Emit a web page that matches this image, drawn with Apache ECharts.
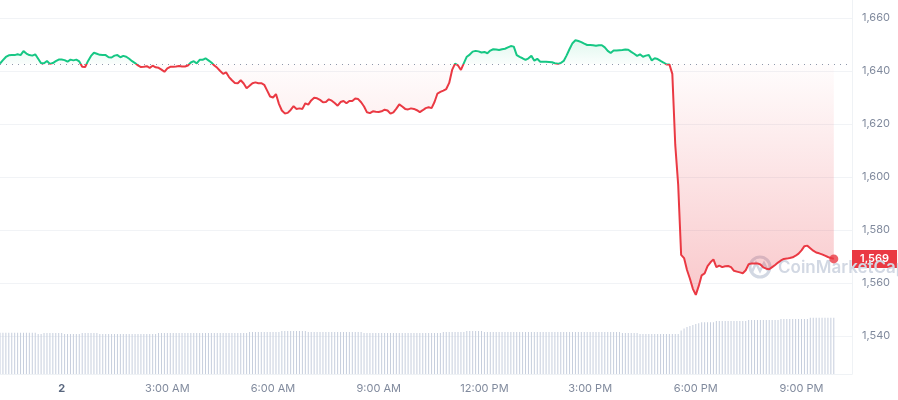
<!DOCTYPE html>
<html><head><meta charset="utf-8">
<script src="https://cdn.jsdelivr.net/npm/echarts@6/dist/echarts.min.js"></script>
<style>html,body{margin:0;padding:0;background:#fff}#c{width:898px;height:400px}</style>
</head><body><div id="c"></div>
<script>
// time axis: minutes from midnight of day "2"; first sample 22:15 the day before, 5-minute steps
const startMinute = -105;
const stepMinutes = 5;

const prices = [
1642.8,1644.1,1645.3,1645.9,1646.0,1646.0,1646.3,1646.0,1647.5,1646.6,
1646.0,1645.8,1646.3,1644.6,1642.9,1642.9,1643.8,1642.7,1643.0,1643.7,
1644.3,1644.3,1644.1,1643.5,1644.3,1644.0,1644.3,1643.6,1641.6,1641.5,
1643.8,1645.7,1646.9,1646.5,1646.1,1646.0,1646.0,1645.2,1645.1,1645.8,
1646.0,1645.2,1645.7,1645.4,1644.6,1643.7,1643.0,1642.1,1641.5,1641.6,
1641.8,1641.2,1642.0,1641.4,1641.2,1640.5,1639.7,1641.0,1641.6,1641.6,
1641.7,1641.9,1641.7,1641.7,1642.1,1643.2,1643.7,1642.9,1644.2,1644.2,
1644.8,1644.0,1643.2,1642.1,1641.2,1640.0,1638.9,1639.5,1637.7,1636.5,
1635.5,1635.4,1636.5,1635.3,1633.5,1634.4,1635.4,1635.7,1635.4,1635.4,
1634.8,1632.6,1630.4,1630.0,1631.3,1627.6,1625.1,1624.0,1624.2,1625.3,
1626.7,1625.7,1625.9,1625.7,1627.8,1627.3,1628.9,1629.9,1629.7,1629.1,
1628.2,1628.3,1629.3,1628.8,1627.9,1626.9,1628.3,1628.7,1627.8,1628.7,
1628.7,1629.6,1629.4,1628.2,1626.6,1624.4,1624.1,1624.8,1624.6,1624.5,
1624.8,1625.4,1625.1,1623.9,1624.4,1625.8,1627.4,1626.6,1625.7,1625.5,
1625.9,1625.7,1625.2,1624.5,1625.2,1626.0,1626.3,1626.0,1628.3,1631.5,
1632.1,1632.6,1633.2,1635.5,1640.4,1642.8,1642.1,1640.4,1643.0,1645.4,
1646.2,1647.3,1647.6,1647.4,1647.0,1647.2,1646.7,1647.7,1648.2,1648.1,
1647.9,1648.2,1648.4,1648.9,1649.4,1649.2,1646.0,1645.3,1644.8,1644.2,
1644.8,1645.7,1643.9,1644.6,1643.5,1643.5,1643.5,1643.4,1643.3,1642.9,
1642.7,1643.0,1643.8,1645.9,1648.3,1650.5,1651.6,1651.3,1650.9,1650.3,
1649.8,1649.8,1649.7,1649.5,1649.7,1649.7,1648.9,1647.6,1646.8,1647.7,
1647.7,1647.8,1647.9,1648.1,1648.0,1647.2,1646.5,1645.7,1646.3,1645.4,
1645.8,1646.0,1644.0,1644.8,1644.5,1643.8,1643.2,1642.5,1642.5,1638.9,
1612.1,1597.0,1570.6,1569.4,1564.9,1561.6,1557.8,1555.5,1558.9,1562.9,
1563.6,1566.4,1567.8,1568.9,1566.0,1566.6,1566.0,1566.3,1566.4,1566.0,
1564.6,1564.3,1564.0,1563.7,1564.8,1567.1,1567.4,1567.4,1567.4,1567.0,
1565.9,1565.4,1565.2,1566.0,1566.8,1567.7,1568.5,1569.1,1569.2,1569.4,
1569.7,1570.3,1571.1,1572.3,1573.9,1574.1,1573.1,1572.2,1571.5,1571.2,
1570.8,1570.3,1569.8,1569.4,1569.1
];

// rolling volume (billions)
const volumes = [
4.42,4.42,4.42,4.42,4.42,4.42,4.42,4.42,4.42,4.42,4.42,4.42,4.42,
4.28,4.28,
4.39,4.39,4.39,4.39,4.39,4.39,4.39,
4.28,4.28,4.28,4.28,4.28,4.28,
4.39,4.39,4.39,4.39,4.39,4.39,
4.28,4.28,4.28,4.28,4.28,4.28,4.28,4.28,4.28,4.28,4.28,4.28,4.28,4.28,4.28,4.28,4.28,4.28,4.28,4.28,
4.39,4.39,4.39,4.39,4.39,4.39,4.39,4.39,4.39,4.39,4.39,4.39,4.39,4.39,4.39,4.39,4.39,4.39,4.39,4.39,4.39,4.39,4.39,4.39,4.39,4.39,4.39,4.39,4.39,4.39,4.39,
4.49,4.49,4.49,4.49,4.49,4.49,4.49,4.49,4.49,4.49,4.49,
4.60,4.60,4.60,4.60,4.60,4.60,4.60,4.60,4.60,
4.49,4.49,4.49,4.49,4.49,4.49,4.49,4.49,4.49,4.49,4.49,4.49,4.49,4.49,4.49,4.49,4.49,4.49,4.49,
4.39,4.39,4.39,4.39,4.39,4.39,4.39,4.39,4.39,4.39,4.39,4.39,4.39,4.39,4.39,4.39,4.39,4.39,4.39,4.39,4.39,4.39,4.39,4.39,4.39,4.39,4.39,
4.49,4.49,4.49,4.49,4.49,4.49,4.49,4.49,
4.60,4.60,4.60,4.60,4.60,4.60,
4.49,4.49,4.49,4.49,4.49,4.49,4.49,4.49,4.49,4.49,4.49,4.49,4.49,4.49,4.49,4.49,4.49,4.49,4.49,4.49,4.49,4.49,4.49,4.49,4.49,4.49,4.49,4.49,4.49,4.49,4.49,4.49,4.49,4.49,4.49,4.49,4.49,4.49,4.49,4.49,4.49,4.49,4.49,4.49,4.49,4.49,4.49,
4.39,4.39,4.39,4.39,4.39,4.39,
4.28,4.28,4.28,4.28,4.28,4.28,4.28,4.28,4.28,4.28,4.28,4.28,4.28,4.28,
4.65,4.87,5.03,5.13,5.24,5.35,5.42,
5.53,5.53,5.53,5.53,5.53,
5.67,5.67,5.67,5.67,5.67,5.67,5.67,5.67,5.67,5.67,5.67,
5.78,5.78,5.78,5.78,5.78,5.78,5.78,5.78,5.78,5.78,5.78,
5.88,5.88,5.88,5.88,5.88,5.88,5.88,5.88,5.88,5.88,
6.02,6.02,6.02,6.02,6.02,6.02,6.02,6.02,6.02
];

const baselinePrice = 1642.6;
const xTickMinutes = [0, 180, 360, 540, 720, 900, 1080, 1260];
const xTickLabels = ['2', '3:00 AM', '6:00 AM', '9:00 AM', '12:00 PM', '3:00 PM', '6:00 PM', '9:00 PM'];
const yMin = 1540, yMax = 1660, yStep = 20;
const xMax = 1346;

const GREEN = '#16c784', RED = '#ea3943';
const lastIdx = prices.length - 1;
const lastMinute = startMinute + lastIdx * stepMinutes;
const linePts = prices.map((p, i) => [startMinute + i * stepMinutes, p]);
const volPts = volumes.map((v, i) => [startMinute + i * stepMinutes, v]);

// price grid spans y 18..336 px; fraction of that span where the baseline sits
const baseFrac = (yMax - baselinePrice) / (yMax - yMin);

const chart = echarts.init(document.getElementById('c'), null, {renderer: 'canvas'});
const fmt = v => Math.round(v).toLocaleString('en-US');

chart.setOption({
  animation: false,
  backgroundColor: '#fff',
  textStyle: {fontFamily: 'Inter, sans-serif'},
  grid: [
    {left: 0, right: 46, top: 18, bottom: 64, outerBoundsMode: 'none'},
    {left: 0, right: 46, top: 0, bottom: 26, outerBoundsMode: 'none'}
  ],
  xAxis: [
    {type: 'value', gridIndex: 0, min: startMinute, max: xMax, show: false},
    {type: 'value', gridIndex: 1, min: startMinute, max: xMax,
     axisLine: {show: true, onZero: false, lineStyle: {color: '#eff2f5', width: 1}},
     axisTick: {show: false}, splitLine: {show: false},
     axisLabel: {
       customValues: xTickMinutes, margin: 9, fontSize: 11, color: '#808a9d',
       fontFamily: 'Inter, sans-serif',
       formatter: v => { const k = xTickMinutes.indexOf(v); if (k < 0) return ''; return k === 0 ? '{d|' + xTickLabels[k] + '}' : xTickLabels[k]; },
       rich: {d: {fontWeight: 'bold', color: '#58667e', fontSize: 11, fontFamily: 'Inter, sans-serif'}}
     }}
  ],
  yAxis: [
    {type: 'value', gridIndex: 0, position: 'right', min: yMin, max: yMax, interval: yStep,
     axisLine: {show: false, onZero: false}, axisTick: {show: false},
     splitLine: {show: true, lineStyle: {color: '#f1f3f6', width: 1}},
     axisLabel: {margin: 10, fontSize: 11, color: '#808a9d', fontFamily: 'Inter, sans-serif', formatter: fmt}},
    {type: 'value', gridIndex: 1, position: 'right', min: 0, max: 40,
     axisLine: {show: true, onZero: false, lineStyle: {color: '#eff2f5', width: 1}},
     axisTick: {show: false}, axisLabel: {show: false}, splitLine: {show: false}},
    {type: 'value', gridIndex: 0, position: 'right', min: yMin, max: yMax,
     axisLine: {show: false, onZero: false}, axisTick: {show: false}, splitLine: {show: false},
     axisLabel: {customValues: [prices[lastIdx]], margin: 0, fontSize: 11, fontWeight: 600,
       color: '#fff', backgroundColor: RED, padding: [3, 8, 2, 8], lineHeight: 13,
       fontFamily: 'Inter, sans-serif', formatter: fmt}}
  ],
  graphic: [
    {type: 'circle', z: 1, shape: {cx: 760, cy: 267, r: 10}, style: {fill: 'none', stroke: '#d2d8e3', lineWidth: 3}},
    {type: 'polyline', z: 1, shape: {points: [[752, 272], [756, 263], [760, 271], [764, 263], [768, 271]]}, style: {fill: 'none', stroke: '#d2d8e3', lineWidth: 2.5}},
    {type: 'text', z: 1, style: {text: 'CoinMarketCap', x: 778, y: 268, font: '600 17px Inter, sans-serif', fill: '#d2d8e3', verticalAlign: 'middle'}}
  ],
  series: [
    {type: 'bar', xAxisIndex: 1, yAxisIndex: 1, data: volPts, barWidth: 1,
     itemStyle: {color: '#c6cedd'}, silent: true},
    {type: 'line', xAxisIndex: 0, yAxisIndex: 0, data: linePts, showSymbol: false, symbol: 'none',
     lineStyle: {width: 2, color: {type: 'linear', x: 0, y: 18, x2: 0, y2: 336, global: true,
       colorStops: [
         {offset: 0, color: GREEN}, {offset: baseFrac, color: GREEN},
         {offset: baseFrac, color: RED}, {offset: 1, color: RED}
       ]}},
     areaStyle: {origin: baselinePrice, opacity: 1, color: {type: 'linear', x: 0, y: 18, x2: 0, y2: 336, global: true,
       colorStops: [
         {offset: 0, color: 'rgba(22,199,132,0.24)'},
         {offset: baseFrac, color: 'rgba(22,199,132,0.02)'},
         {offset: baseFrac, color: 'rgba(234,57,67,0.01)'},
         {offset: 0.88, color: 'rgba(234,57,67,0.28)'},
         {offset: 1, color: 'rgba(234,57,67,0.3)'}
       ]}},
     markLine: {silent: true, symbol: 'none', label: {show: false}, animation: false,
       lineStyle: {color: '#8e97aa', type: [1, 5], width: 1},
       data: [{yAxis: baselinePrice}]}},
    {type: 'scatter', xAxisIndex: 0, yAxisIndex: 0, data: [[lastMinute, prices[lastIdx]]],
     symbolSize: 9, itemStyle: {color: RED}, silent: true, z: 5}
  ]
});
</script></body></html>
